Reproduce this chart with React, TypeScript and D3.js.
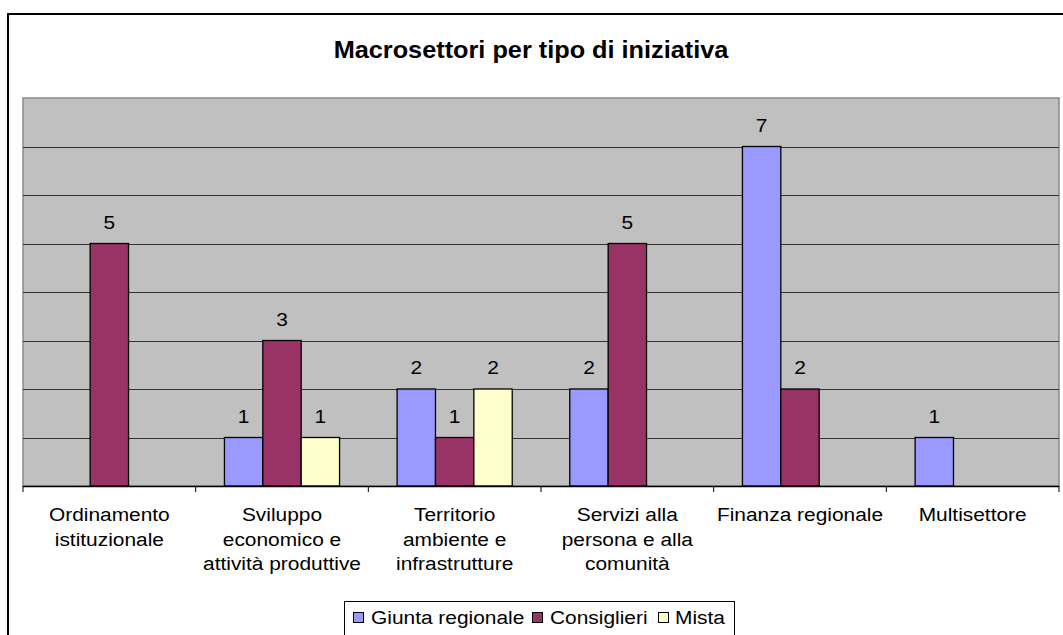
import React from "react";
import * as d3 from "d3";

const title = "Macrosettori per tipo di iniziativa";
const categories = [
  "Ordinamento istituzionale",
  "Sviluppo economico e attività produttive",
  "Territorio ambiente e infrastrutture",
  "Servizi alla persona e alla comunità",
  "Finanza regionale",
  "Multisettore",
];
const categoryLines = [
  ["Ordinamento", "istituzionale"],
  ["Sviluppo", "economico e", "attività produttive"],
  ["Territorio", "ambiente e", "infrastrutture"],
  ["Servizi alla", "persona e alla", "comunità"],
  ["Finanza regionale"],
  ["Multisettore"],
];
const seriesNames = ["Giunta regionale", "Consiglieri", "Mista"];
const giunta = [0, 1, 2, 2, 7, 1];
const consiglieri = [5, 3, 1, 5, 2, 0];
const mista = [0, 1, 2, 0, 0, 0];
const seriesColors = ["#9999FF", "#993366", "#FFFFCC"];
const yTicks = [0, 1, 2, 3, 4, 5, 6, 7, 8];

const W = 1063;
const H = 635;
const FONT = "Arial, 'Liberation Sans', Helvetica, sans-serif";
const SX = 1.1;

function SText(props: {
  x: number;
  y: number;
  anchor?: string;
  size?: number;
  bold?: boolean;
  children: React.ReactNode;
}) {
  const { x, y, anchor = "middle", size = 19, bold = false, children } = props;
  return (
    <text
      transform={`translate(${x},${y}) scale(${SX},1)`}
      textAnchor={anchor}
      fontFamily={FONT}
      fontSize={size}
      fontWeight={bold ? "bold" : "normal"}
      fill="#000"
    >
      {children}
    </text>
  );
}

export default function App() {
  const values = [giunta, consiglieri, mista];
  const left = 23;
  const right = 1059;
  const top = 98;
  const bottom = 486;

  const x0 = d3.scaleBand<string>().domain(categories).range([left, right]).paddingInner(0).paddingOuter(0);
  const x1 = d3
    .scaleBand<string>()
    .domain(seriesNames)
    .range([0, x0.bandwidth()])
    .paddingInner(0)
    .paddingOuter(0.75);
  const y = d3.scaleLinear().domain([0, 8]).range([bottom, top]);

  const boundaries = categories.map((c) => x0(c) as number).concat([right]);

  return (
    <svg
      width={W}
      height={H}
      style={{ position: "absolute", left: 0, top: 0, background: "#fff" }}
    >
      <rect x={0} y={0} width={W} height={H} fill="#fff" />
      {/* outer chart border */}
      <rect x={8} y={14} width={W + 20} height={H + 20} fill="none" stroke="#000" strokeWidth={2} />

      <SText x={531} y={58} size={23} bold>
        {title}
      </SText>

      {/* plot area */}
      <rect x={left} y={top} width={right - left} height={bottom - top} fill="#C0C0C0" stroke="#8a8a8a" strokeWidth={1.5} />
      {yTicks.slice(1, -1).map((t) => (
        <line key={t} x1={left} x2={right} y1={Math.round(y(t)) + 0.5} y2={Math.round(y(t)) + 0.5} stroke="#333" strokeWidth={1} />
      ))}

      {/* bars */}
      {categories.map((c, ci) =>
        seriesNames.map((s, si) => {
          const v = values[si][ci];
          if (!v) return null;
          const bx = (x0(c) as number) + (x1(s) as number);
          const bw = x1.bandwidth();
          return (
            <g key={c + s}>
              <rect
                x={bx}
                y={y(v)}
                width={bw}
                height={y(0) - y(v)}
                fill={seriesColors[si]}
                stroke="#000"
                strokeWidth={1.3}
              />
              <SText x={bx + bw / 2} y={y(v) - 15}>
                {String(v)}
              </SText>
            </g>
          );
        })
      )}

      {/* x axis */}
      <line x1={left} x2={right} y1={bottom + 0.5} y2={bottom + 0.5} stroke="#000" strokeWidth={1.3} />
      {boundaries.map((bx, i) => (
        <line key={i} x1={bx} x2={bx} y1={bottom} y2={bottom + 6} stroke="#000" strokeWidth={1} />
      ))}
      {categories.map((c, ci) =>
        categoryLines[ci].map((ln, li) => (
          <SText key={c + li} x={(x0(c) as number) + x0.bandwidth() / 2} y={521 + li * 24.5}>
            {ln}
          </SText>
        ))
      )}

      {/* legend */}
      <rect x={344.5} y={601.5} width={390} height={50} fill="#fff" stroke="#000" strokeWidth={1} />
      {seriesNames.map((s, si) => {
        const sqX = [353, 532, 658][si];
        const txX = [371, 550, 675][si];
        return (
          <g key={s}>
            <rect x={sqX + 0.5} y={612.5} width={10} height={10} fill={seriesColors[si]} stroke="#000" strokeWidth={1} />
            <SText x={txX} y={624} anchor="start">
              {s}
            </SText>
          </g>
        );
      })}
    </svg>
  );
}
